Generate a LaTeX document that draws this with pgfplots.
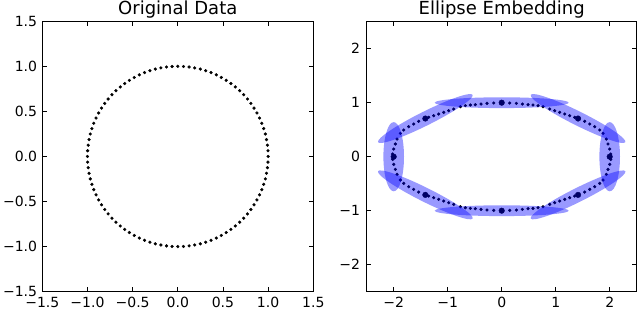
\documentclass[border=0pt]{standalone}
\usepackage{fontspec}
\setmainfont{DejaVu Sans}
\usepackage{pgfplots}
\pgfplotsset{compat=1.18}

\pgfdeclareplotmark{myell}{%
  \pgfscope
  \pgftransformrotate{\ellang}%
  \pgfpathellipse{\pgfpointorigin}{\pgfpoint{\ella pt}{0pt}}{\pgfpoint{0pt}{\ellb pt}}%
  \pgfusepath{fill}%
  \endpgfscope}

\pgfplotsset{
  mpl/.style={
    scale only axis,
    axis line style={line width=0.8pt, black},
    tick align=inside, major tick length=4.5pt,
    every tick/.style={black, line width=0.6pt},
    tick label style={font=\fontsize{14}{16}\selectfont, inner sep=0pt},
    title style={font=\fontsize{18}{21}\selectfont, at={(0.5,1)}, anchor=base, yshift=1pt, inner sep=0pt},
    xticklabel style={anchor=north, yshift=-5pt},
    yticklabel style={anchor=east, xshift=-5pt},
  }
}

\pgfplotstableread{
x y
1.000 0.000
0.998 0.063
0.992 0.125
0.982 0.187
0.969 0.249
0.951 0.309
0.930 0.368
0.905 0.426
0.876 0.482
0.844 0.536
0.809 0.588
0.771 0.637
0.729 0.685
0.685 0.729
0.637 0.771
0.588 0.809
0.536 0.844
0.482 0.876
0.426 0.905
0.368 0.930
0.309 0.951
0.249 0.969
0.187 0.982
0.125 0.992
0.063 0.998
0.000 1.000
-1.000 0.000
-0.998 0.063
-0.992 0.125
-0.982 0.187
-0.969 0.249
-0.951 0.309
-0.930 0.368
-0.905 0.426
-0.876 0.482
-0.844 0.536
-0.809 0.588
-0.771 0.637
-0.729 0.685
-0.685 0.729
-0.637 0.771
-0.588 0.809
-0.536 0.844
-0.482 0.876
-0.426 0.905
-0.368 0.930
-0.309 0.951
-0.249 0.969
-0.187 0.982
-0.125 0.992
-0.063 0.998
-0.998 -0.063
-0.992 -0.125
-0.982 -0.187
-0.969 -0.249
-0.951 -0.309
-0.930 -0.368
-0.905 -0.426
-0.876 -0.482
-0.844 -0.536
-0.809 -0.588
-0.771 -0.637
-0.729 -0.685
-0.685 -0.729
-0.637 -0.771
-0.588 -0.809
-0.536 -0.844
-0.482 -0.876
-0.426 -0.905
-0.368 -0.930
-0.309 -0.951
-0.249 -0.969
-0.187 -0.982
-0.125 -0.992
-0.063 -0.998
0.000 -1.000
0.998 -0.063
0.992 -0.125
0.982 -0.187
0.969 -0.249
0.951 -0.309
0.930 -0.368
0.905 -0.426
0.876 -0.482
0.844 -0.536
0.809 -0.588
0.771 -0.637
0.729 -0.685
0.685 -0.729
0.637 -0.771
0.588 -0.809
0.536 -0.844
0.482 -0.876
0.426 -0.905
0.368 -0.930
0.309 -0.951
0.249 -0.969
0.187 -0.982
0.125 -0.992
0.063 -0.998
}\circledata

\pgfplotstableread{
x y
0.148 0.994
0.272 0.988
0.383 0.975
0.488 0.963
0.580 0.957
0.673 0.945
0.765 0.926
0.889 0.883
0.981 0.852
1.074 0.821
1.167 0.790
1.259 0.759
1.352 0.729
1.537 0.655
1.630 0.605
1.722 0.556
1.815 0.494
1.877 0.432
1.938 0.327
1.969 0.235
2.000 0.142
2.019 0.050
-0.148 0.994
-0.272 0.988
-0.383 0.975
-0.488 0.963
-0.580 0.957
-0.673 0.945
-0.765 0.926
-0.889 0.883
-0.981 0.852
-1.074 0.821
-1.167 0.790
-1.259 0.759
-1.352 0.729
-1.537 0.655
-1.630 0.605
-1.722 0.556
-1.815 0.494
-1.877 0.432
-1.938 0.327
-1.969 0.235
-2.000 0.142
-2.019 0.050
-0.148 -0.994
-0.272 -0.988
-0.383 -0.975
-0.488 -0.963
-0.580 -0.957
-0.673 -0.945
-0.765 -0.926
-0.889 -0.883
-0.981 -0.852
-1.074 -0.821
-1.167 -0.790
-1.259 -0.759
-1.352 -0.729
-1.537 -0.655
-1.630 -0.605
-1.722 -0.556
-1.815 -0.494
-1.877 -0.432
-1.938 -0.327
-1.969 -0.235
-2.000 -0.142
-2.019 -0.050
0.148 -0.994
0.272 -0.988
0.383 -0.975
0.488 -0.963
0.580 -0.957
0.673 -0.945
0.765 -0.926
0.889 -0.883
0.981 -0.852
1.074 -0.821
1.167 -0.790
1.259 -0.759
1.352 -0.729
1.537 -0.655
1.630 -0.605
1.722 -0.556
1.815 -0.494
1.877 -0.432
1.938 -0.327
1.969 -0.235
2.000 -0.142
2.019 -0.050
}\embsmall

\pgfplotstableread{
x y
2.000 0.000
1.414 0.707
0.000 1.000
-1.414 0.707
-2.000 0.000
-1.414 -0.707
0.000 -1.000
1.414 -0.707
}\embbig

% ellipses: centre, rotation (deg), semi-axes in pt (54 pt per unit)
\pgfplotstableread{
x y ang a b
2.000 0.000 90 34.6 10.3
1.414 0.707 -26.57 52.9 7.0
0.000 1.000 0 67.0 5.4
-1.414 0.707 26.57 52.9 7.0
-2.000 0.000 90 34.6 10.3
-1.414 -0.707 -26.57 52.9 7.0
0.000 -1.000 0 67.0 5.4
1.414 -0.707 26.57 52.9 7.0
}\embell

\begin{document}
\begin{tikzpicture}
\begin{axis}[mpl, at={(42.3pt,18.3pt)}, anchor=south west,
  width=271pt, height=270.5pt,
  xmin=-1.5, xmax=1.5, ymin=-1.5, ymax=1.5,
  xtick={-1.5,-1,-0.5,0,0.5,1,1.5},
  xticklabels={−1.5,−1.0,−0.5,0.0,0.5,1.0,1.5},
  ytick={-1.5,-1,-0.5,0,0.5,1,1.5},
  yticklabels={−1.5,−1.0,−0.5,0.0,0.5,1.0,1.5},
  title={Original Data}]
\addplot[only marks, mark=*, mark size=1.4pt, black] table {\circledata};
\end{axis}

\begin{axis}[mpl, at={(366.7pt,18.3pt)}, anchor=south west,
  width=270pt, height=270pt,
  xmin=-2.5, xmax=2.5, ymin=-2.5, ymax=2.5,
  xtick={-2,-1,0,1,2}, xticklabels={−2,−1,0,1,2},
  ytick={-2,-1,0,1,2}, yticklabels={−2,−1,0,1,2},
  yticklabel style={xshift=-1.5pt},
  title={Ellipse Embedding}]
\addplot[only marks, mark=*, mark size=1.4pt, black] table {\embsmall};
\addplot[only marks, mark=*, mark size=2.8pt, black] table {\embbig};
\addplot[scatter, only marks, mark=myell,
  visualization depends on={\thisrow{ang} \as \ellang},
  visualization depends on={\thisrow{a} \as \ella},
  visualization depends on={\thisrow{b} \as \ellb},
  scatter/@pre marker code/.code={},
  scatter/@post marker code/.code={},
  mark options={draw=none, fill=blue, fill opacity=0.4}] table {\embell};
\end{axis}
\pgfresetboundingbox
\useasboundingbox (0,0) rectangle (640pt,310pt);
\end{tikzpicture}
\end{document}
